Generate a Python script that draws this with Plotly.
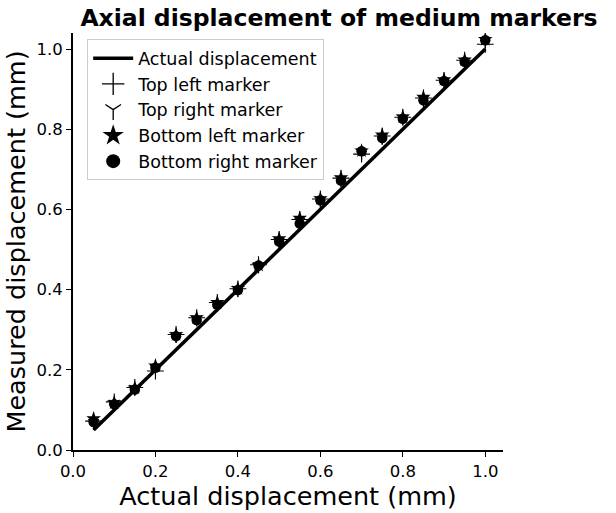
import plotly.graph_objects as go

# Actual (commanded) displacement in mm
actual = [0.05, 0.10, 0.15, 0.20, 0.25, 0.30, 0.35, 0.40, 0.45, 0.50,
          0.55, 0.60, 0.65, 0.70, 0.75, 0.80, 0.85, 0.90, 0.95, 1.00]

# Measured displacement for each marker (mm)
top_left = [0.072, 0.120, 0.156, 0.197, 0.288, 0.330, 0.368, 0.402, 0.462, 0.525,
            0.575, 0.626, 0.678, 0.738, 0.783, 0.830, 0.878, 0.922, 0.972, 1.012]
top_right = [0.068, 0.116, 0.153, 0.203, 0.285, 0.326, 0.363, 0.400, 0.459, 0.520,
             0.570, 0.623, 0.674, 0.742, 0.779, 0.827, 0.873, 0.918, 0.968, 1.020]
bottom_left = [0.078, 0.118, 0.155, 0.210, 0.288, 0.330, 0.368, 0.403, 0.461, 0.527,
               0.578, 0.627, 0.679, 0.746, 0.786, 0.831, 0.880, 0.924, 0.973, 1.024]
bottom_right = [0.070, 0.114, 0.151, 0.205, 0.284, 0.324, 0.362, 0.399, 0.460, 0.520,
                0.565, 0.623, 0.672, 0.745, 0.778, 0.826, 0.872, 0.920, 0.968, 1.022]

line_x = [actual[0], actual[-1]]

font = "DejaVu Sans"
fig = go.Figure()

# (name, symbol, plot size, legend size, outline width, measured values)
series = [
    ("Top left marker", "cross-thin", 12, 17, 1.1, top_left),
    ("Top right marker", "y-down", 9, 13, 1.1, top_right),
    ("Bottom left marker", "star", 11, 17, 0, bottom_left),
    ("Bottom right marker", "circle", 10.5, 14, 0, bottom_right),
]

fig.add_trace(go.Scatter(x=line_x, y=line_x, mode="lines", name="Actual displacement",
                         line=dict(color="black", width=3.5)))

for name, symbol, size, leg_size, lw, values in series:
    fig.add_trace(go.Scatter(x=actual, y=values, mode="markers", name=name,
                             showlegend=False, legendgroup=name,
                             marker=dict(symbol=symbol, size=size, color="black",
                                         line=dict(color="black", width=lw))))
    # legend entry with a larger marker glyph
    fig.add_trace(go.Scatter(x=[None], y=[None], mode="markers", name=name,
                             legendgroup=name,
                             marker=dict(symbol=symbol, size=leg_size, color="black",
                                         line=dict(color="black", width=lw * 1.2))))

axis_common = dict(
    showgrid=False, zeroline=False, showline=True, linecolor="black", linewidth=2,
    ticks="outside", ticklen=5, tickwidth=1.2, tickcolor="black",
    tickfont=dict(family=font, size=16.5, color="black"),
    tickformat=".1f", dtick=0.2, mirror=False,
)

fig.update_layout(
    width=616, height=513,
    margin=dict(l=73, r=113, t=33, b=54),
    paper_bgcolor="white", plot_bgcolor="white",
    font=dict(family=font, color="black"),
    title=dict(text="<b>Axial displacement of medium markers</b>",
               font=dict(family=font, size=23.5, color="black"),
               x=339 / 616, xanchor="center", y=1 - 18 / 513, yanchor="middle"),
    xaxis=dict(range=[0, 1.043], **axis_common,
               title=dict(text="Actual displacement (mm)",
                          font=dict(family=font, size=25.5, color="black"), standoff=2)),
    yaxis=dict(range=[0, 1.04], **axis_common,
               title=dict(text="Measured displacement (mm)",
                          font=dict(family=font, size=25.5, color="black"), standoff=4)),
    legend=dict(x=0.033, y=0.985, xanchor="left", yanchor="top",
                bgcolor="rgba(255,255,255,0.8)", bordercolor="#cccccc", borderwidth=1,
                font=dict(family=font, size=17.5, color="black"),
                itemwidth=40, tracegroupgap=0),
    showlegend=True,
)

fig.write_html("out.html")
